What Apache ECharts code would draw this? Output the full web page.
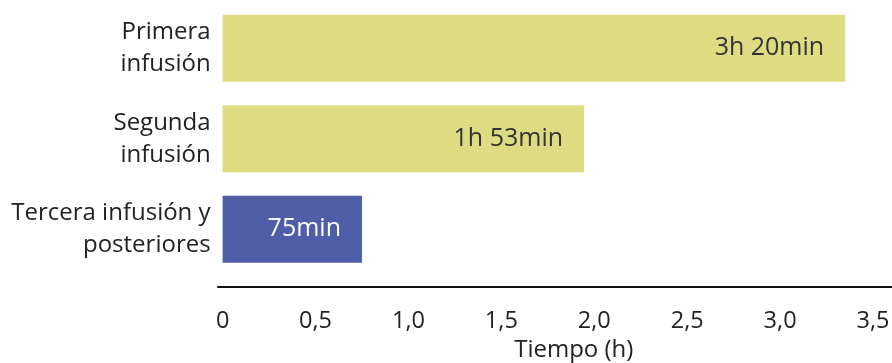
<!DOCTYPE html>
<html>
<head>
<meta charset="utf-8">
<script src="https://cdn.jsdelivr.net/npm/echarts@6/dist/echarts.min.js"></script>
<style>html,body{margin:0;padding:0;background:#fff}#c{width:892px;height:363px}</style>
</head>
<body>
<div id="c"></div>
<script>
var categories = ["Primera\ninfusión", "Segunda\ninfusión", "Tercera infusión y\nposteriores"];
var hours = [3.35, 1.945, 0.75];
var barLabels = ["3h 20min", "1h 53min", "75min"];
var barColors = ["#dedc82", "#dedc82", "#4f5ea8"];
var labelColors = ["#333333", "#333333", "#ffffff"];
var xTicks = [0, 0.5, 1.0, 1.5, 2.0, 2.5, 3.0, 3.5];
var xTitle = "Tiempo (h)";

var FONT = "Open Sans";
var chart = echarts.init(document.getElementById('c'));
chart.setOption({
  animation: false,
  textStyle: {fontFamily: FONT},
  grid: [
    {left: 222.6, width: 650.4, top: 3, height: 271.5, containLabel: false, outerBoundsMode: 'none'},
    {left: 218, right: 0, top: 3, height: 284, containLabel: false, outerBoundsMode: 'none'}
  ],
  xAxis: [
    {
      gridIndex: 0, type: 'value', min: 0, max: 3.5, interval: 0.5, offset: 12.5,
      axisLine: {show: false}, axisTick: {show: false}, splitLine: {show: false},
      axisLabel: {
        fontFamily: FONT, fontSize: 23.5, color: '#222', margin: 22,
        formatter: function (v) { return v === 0 ? '0' : v.toFixed(1).replace('.', ','); }
      },
      name: xTitle, nameLocation: 'middle', nameGap: 50,
      nameTextStyle: {fontFamily: FONT, fontSize: 24, color: '#222', padding: [0, 0, 0, 52]}
    },
    {
      gridIndex: 1, type: 'value', min: 0, max: 1,
      axisLine: {show: true, lineStyle: {color: '#111', width: 2}},
      axisTick: {show: false}, axisLabel: {show: false}, splitLine: {show: false}
    }
  ],
  yAxis: [
    {
      gridIndex: 0, type: 'category', inverse: true, data: categories,
      axisLine: {show: false}, axisTick: {show: false},
      axisLabel: {fontFamily: FONT, fontSize: 24, lineHeight: 32, color: '#222', align: 'right', margin: 12}
    },
    {gridIndex: 1, type: 'value', show: false, min: 0, max: 1}
  ],
  series: [{
    type: 'bar', xAxisIndex: 0, yAxisIndex: 0,
    barCategoryGap: '26%',
    data: hours.map(function (v, i) {
      return {
        value: v,
        itemStyle: {color: barColors[i]},
        label: {color: labelColors[i]}
      };
    }),
    label: {
      show: true, position: 'insideRight', distance: 21,
      fontFamily: FONT, fontSize: 25,
      formatter: function (p) { return barLabels[p.dataIndex]; }
    }
  }]
});
</script>
</body>
</html>
